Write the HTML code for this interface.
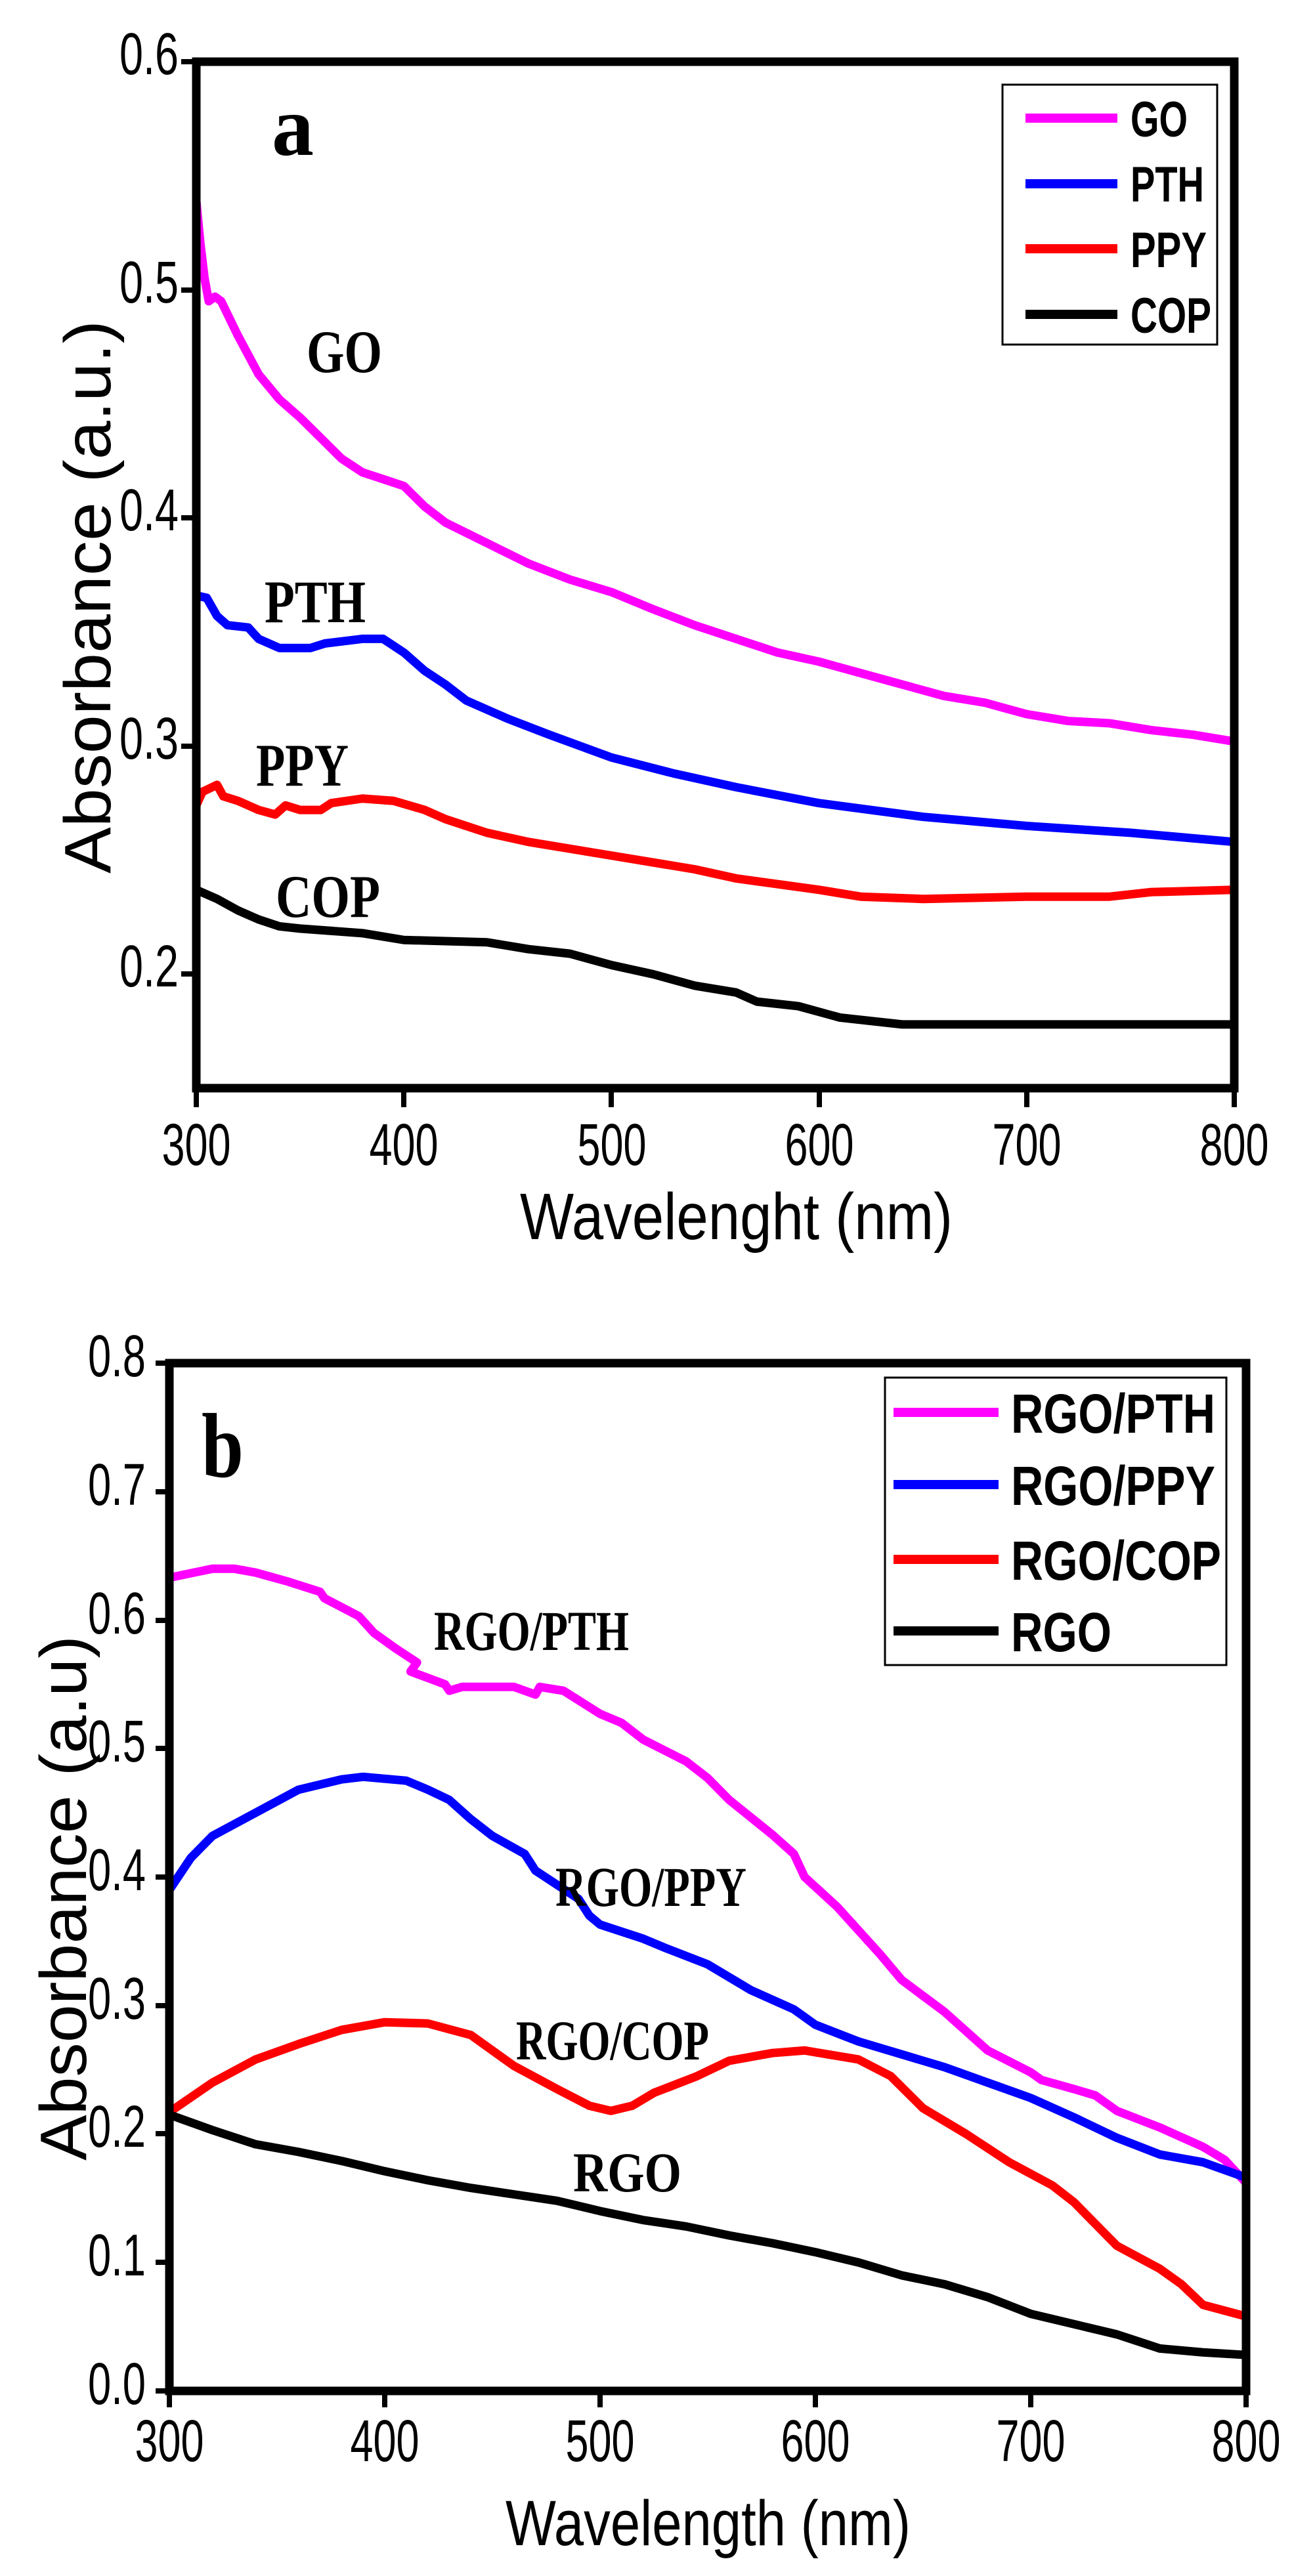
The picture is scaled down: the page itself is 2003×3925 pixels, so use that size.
<!DOCTYPE html>
<html><head><meta charset="utf-8"><style>
html,body{margin:0;padding:0;background:#fff;}
svg{display:block;}
.t{font-family:"Liberation Sans",sans-serif;}
.s{font-family:"Liberation Serif",serif;font-weight:bold;}
</style></head><body>
<svg width="2003" height="3925" viewBox="0 0 2003 3925" xmlns="http://www.w3.org/2000/svg">
<rect width="2003" height="3925" fill="#fff"/>

<!-- ============ PANEL A ============ -->
<g fill="none" stroke-linejoin="round" stroke-linecap="butt">
<g transform="translate(299,94) scale(3.162,-3476) translate(-300,-0.6)">
<polyline vector-effect="non-scaling-stroke" stroke="#ff00ff" stroke-width="13" points="300,0.539 302,0.52 304,0.505 306,0.495 309,0.497 312,0.495 320,0.48 330,0.463 340,0.452 350,0.444 360,0.435 370,0.426 380,0.42 390,0.417 400,0.414 410,0.405 420,0.398 440,0.389 460,0.380 480,0.373 500,0.3675 520,0.360 540,0.353 560,0.347 580,0.341 600,0.337 620,0.332 640,0.327 660,0.322 680,0.319 700,0.314 720,0.311 740,0.310 760,0.307 780,0.305 800,0.302"/>
<polyline vector-effect="non-scaling-stroke" stroke="#0000ff" stroke-width="13" points="300,0.366 305,0.365 310,0.357 315,0.353 325,0.352 330,0.347 340,0.343 355,0.343 362,0.345 380,0.347 390,0.347 400,0.341 410,0.333 420,0.327 430,0.320 450,0.312 470,0.305 500,0.295 530,0.288 560,0.282 600,0.275 650,0.269 700,0.265 750,0.262 800,0.258"/>
<polyline vector-effect="non-scaling-stroke" stroke="#ff0000" stroke-width="13" points="300,0.274 303,0.280 310,0.283 313,0.278 320,0.276 330,0.272 338,0.270 343,0.274 350,0.272 360,0.272 365,0.275 380,0.277 395,0.276 410,0.272 420,0.268 440,0.262 460,0.258 500,0.252 540,0.246 560,0.242 600,0.237 620,0.234 650,0.233 700,0.234 740,0.234 760,0.236 800,0.237"/>
<polyline vector-effect="non-scaling-stroke" stroke="#000" stroke-width="13" points="300,0.237 310,0.233 320,0.228 330,0.224 340,0.221 350,0.220 380,0.218 400,0.215 440,0.214 460,0.211 480,0.209 500,0.204 520,0.200 540,0.195 560,0.192 570,0.188 590,0.186 610,0.181 640,0.178 700,0.178 800,0.178"/>
</g>
</g>
<!-- axes a -->
<rect x="299" y="94" width="1581" height="1564" fill="none" stroke="#000" stroke-width="13"/>
<g stroke="#000" stroke-width="8">
<line x1="276" y1="94" x2="299" y2="94"/><line x1="276" y1="442" x2="299" y2="442"/><line x1="276" y1="789" x2="299" y2="789"/><line x1="276" y1="1137" x2="299" y2="1137"/><line x1="276" y1="1484" x2="299" y2="1484"/>
<line x1="299" y1="1658" x2="299" y2="1687"/><line x1="615" y1="1658" x2="615" y2="1687"/><line x1="931" y1="1658" x2="931" y2="1687"/><line x1="1248" y1="1658" x2="1248" y2="1687"/><line x1="1564" y1="1658" x2="1564" y2="1687"/><line x1="1880" y1="1658" x2="1880" y2="1687"/>
</g>
<g class="t" font-size="90" text-anchor="end">
<text x="272" y="113" textLength="90" lengthAdjust="spacingAndGlyphs">0.6</text>
<text x="272" y="461" textLength="90" lengthAdjust="spacingAndGlyphs">0.5</text>
<text x="272" y="808" textLength="90" lengthAdjust="spacingAndGlyphs">0.4</text>
<text x="272" y="1156" textLength="90" lengthAdjust="spacingAndGlyphs">0.3</text>
<text x="272" y="1503" textLength="90" lengthAdjust="spacingAndGlyphs">0.2</text>
</g>
<g class="t" font-size="90" text-anchor="middle">
<text x="299" y="1775" textLength="105" lengthAdjust="spacingAndGlyphs">300</text>
<text x="615" y="1775" textLength="105" lengthAdjust="spacingAndGlyphs">400</text>
<text x="932" y="1775" textLength="105" lengthAdjust="spacingAndGlyphs">500</text>
<text x="1248" y="1775" textLength="105" lengthAdjust="spacingAndGlyphs">600</text>
<text x="1564" y="1775" textLength="105" lengthAdjust="spacingAndGlyphs">700</text>
<text x="1880" y="1775" textLength="105" lengthAdjust="spacingAndGlyphs">800</text>
</g>
<text class="t" x="792" y="1888" font-size="100" textLength="659" lengthAdjust="spacingAndGlyphs">Wavelenght (nm)</text>
<text class="t" transform="translate(168,1331) rotate(-90)" font-size="100" textLength="843" lengthAdjust="spacingAndGlyphs">Absorbance (a.u.)</text>
<text class="s" x="414" y="236" font-size="130" textLength="64" lengthAdjust="spacingAndGlyphs">a</text>
<g class="s" font-size="92">
<text x="467" y="567" textLength="115" lengthAdjust="spacingAndGlyphs">GO</text>
<text x="403" y="948" textLength="154" lengthAdjust="spacingAndGlyphs">PTH</text>
<text x="390" y="1197" textLength="141" lengthAdjust="spacingAndGlyphs">PPY</text>
<text x="420" y="1397" textLength="159" lengthAdjust="spacingAndGlyphs">COP</text>
</g>
<!-- legend a -->
<rect x="1527" y="129" width="327" height="396" fill="#fff" stroke="#000" stroke-width="3"/>
<g stroke-width="14">
<line x1="1562" y1="180" x2="1702" y2="180" stroke="#ff00ff"/>
<line x1="1562" y1="280" x2="1702" y2="280" stroke="#0000ff"/>
<line x1="1562" y1="379" x2="1702" y2="379" stroke="#ff0000"/>
<line x1="1562" y1="479" x2="1702" y2="479" stroke="#000"/>
</g>
<g class="t" font-size="76" font-weight="bold">
<text x="1722" y="208" textLength="87" lengthAdjust="spacingAndGlyphs">GO</text>
<text x="1722" y="307" textLength="112" lengthAdjust="spacingAndGlyphs">PTH</text>
<text x="1722" y="407" textLength="116" lengthAdjust="spacingAndGlyphs">PPY</text>
<text x="1722" y="507" textLength="123" lengthAdjust="spacingAndGlyphs">COP</text>
</g>

<!-- ============ PANEL B ============ -->
<g fill="none" stroke-linejoin="round">
<g transform="translate(258,3643) scale(3.28,-1957.5) translate(-300,0)">
<polyline vector-effect="non-scaling-stroke" stroke="#ff00ff" stroke-width="13" points="300,0.633 320,0.640 330,0.640 340,0.637 355,0.630 370,0.622 372,0.617 380,0.610 388,0.603 395,0.590 405,0.578 415,0.567 412,0.560 420,0.555 428,0.550 430,0.545 436,0.548 460,0.548 470,0.542 472,0.548 483,0.545 500,0.527 510,0.520 520,0.507 540,0.490 550,0.477 560,0.460 580,0.433 590,0.418 595,0.400 610,0.377 630,0.340 640,0.320 660,0.295 680,0.265 700,0.248 705,0.242 720,0.235 730,0.230 740,0.218 760,0.205 780,0.190 790,0.180 800,0.162"/>
<polyline vector-effect="non-scaling-stroke" stroke="#0000ff" stroke-width="13" points="300,0.39 310,0.415 320,0.432 340,0.450 360,0.468 380,0.476 390,0.478 410,0.475 420,0.468 430,0.460 440,0.445 450,0.432 465,0.418 470,0.405 490,0.383 495,0.370 500,0.363 520,0.352 530,0.345 550,0.332 570,0.312 590,0.297 600,0.285 620,0.272 640,0.262 660,0.252 680,0.240 700,0.228 720,0.213 740,0.197 760,0.184 780,0.178 800,0.166"/>
<polyline vector-effect="non-scaling-stroke" stroke="#ff0000" stroke-width="13" points="300,0.217 320,0.240 340,0.258 360,0.270 380,0.281 400,0.287 420,0.286 440,0.277 460,0.253 480,0.235 495,0.222 505,0.218 515,0.222 525,0.232 545,0.245 560,0.257 580,0.263 595,0.265 620,0.258 635,0.245 650,0.220 670,0.200 690,0.178 710,0.160 720,0.147 740,0.113 760,0.095 770,0.083 780,0.067 800,0.058"/>
<polyline vector-effect="non-scaling-stroke" stroke="#000" stroke-width="13" points="300,0.215 320,0.203 340,0.192 360,0.186 380,0.179 400,0.171 420,0.164 440,0.158 460,0.153 480,0.148 500,0.140 520,0.133 540,0.128 560,0.121 580,0.115 600,0.108 620,0.100 640,0.090 660,0.083 680,0.073 700,0.060 720,0.052 740,0.044 760,0.033 780,0.030 800,0.028"/>
</g>
</g>
<rect x="258" y="2077" width="1640" height="1566" fill="none" stroke="#000" stroke-width="13"/>
<g stroke="#000" stroke-width="8">
<line x1="237" y1="2077" x2="258" y2="2077"/><line x1="237" y1="2273" x2="258" y2="2273"/><line x1="237" y1="2469" x2="258" y2="2469"/><line x1="237" y1="2664" x2="258" y2="2664"/><line x1="237" y1="2860" x2="258" y2="2860"/><line x1="237" y1="3056" x2="258" y2="3056"/><line x1="237" y1="3251" x2="258" y2="3251"/><line x1="237" y1="3447" x2="258" y2="3447"/><line x1="237" y1="3643" x2="258" y2="3643"/>
<line x1="258" y1="3643" x2="258" y2="3668"/><line x1="586" y1="3643" x2="586" y2="3668"/><line x1="914" y1="3643" x2="914" y2="3668"/><line x1="1242" y1="3643" x2="1242" y2="3668"/><line x1="1570" y1="3643" x2="1570" y2="3668"/><line x1="1898" y1="3643" x2="1898" y2="3668"/>
</g>
<g class="t" font-size="90" text-anchor="end">
<text x="222" y="2097" textLength="88" lengthAdjust="spacingAndGlyphs">0.8</text>
<text x="222" y="2293" textLength="88" lengthAdjust="spacingAndGlyphs">0.7</text>
<text x="222" y="2489" textLength="88" lengthAdjust="spacingAndGlyphs">0.6</text>
<text x="222" y="2684" textLength="88" lengthAdjust="spacingAndGlyphs">0.5</text>
<text x="222" y="2880" textLength="88" lengthAdjust="spacingAndGlyphs">0.4</text>
<text x="222" y="3076" textLength="88" lengthAdjust="spacingAndGlyphs">0.3</text>
<text x="222" y="3271" textLength="88" lengthAdjust="spacingAndGlyphs">0.2</text>
<text x="222" y="3467" textLength="88" lengthAdjust="spacingAndGlyphs">0.1</text>
<text x="222" y="3663" textLength="88" lengthAdjust="spacingAndGlyphs">0.0</text>
</g>
<g class="t" font-size="90" text-anchor="middle">
<text x="258" y="3750" textLength="105" lengthAdjust="spacingAndGlyphs">300</text>
<text x="586" y="3750" textLength="105" lengthAdjust="spacingAndGlyphs">400</text>
<text x="914" y="3750" textLength="105" lengthAdjust="spacingAndGlyphs">500</text>
<text x="1242" y="3750" textLength="105" lengthAdjust="spacingAndGlyphs">600</text>
<text x="1570" y="3750" textLength="105" lengthAdjust="spacingAndGlyphs">700</text>
<text x="1898" y="3750" textLength="105" lengthAdjust="spacingAndGlyphs">800</text>
</g>
<text class="t" x="770" y="3878" font-size="97" textLength="617" lengthAdjust="spacingAndGlyphs">Wavelength (nm)</text>
<text class="t" transform="translate(131,3292) rotate(-90)" font-size="100" textLength="800" lengthAdjust="spacingAndGlyphs">Absorbance (a.u)</text>
<text class="s" x="307" y="2250" font-size="140" textLength="64" lengthAdjust="spacingAndGlyphs">b</text>
<g class="s" font-size="86">
<text x="661" y="2514" textLength="297" lengthAdjust="spacingAndGlyphs">RGO/PTH</text>
<text x="846" y="2904" textLength="291" lengthAdjust="spacingAndGlyphs">RGO/PPY</text>
<text x="786" y="3138" textLength="294" lengthAdjust="spacingAndGlyphs">RGO/COP</text>
<text x="873" y="3339" textLength="165" lengthAdjust="spacingAndGlyphs">RGO</text>
</g>
<rect x="1348" y="2099" width="520" height="438" fill="#fff" stroke="#000" stroke-width="3"/>
<g stroke-width="14">
<line x1="1361" y1="2152" x2="1521" y2="2152" stroke="#ff00ff"/>
<line x1="1361" y1="2262" x2="1521" y2="2262" stroke="#0000ff"/>
<line x1="1361" y1="2376" x2="1521" y2="2376" stroke="#ff0000"/>
<line x1="1361" y1="2485" x2="1521" y2="2485" stroke="#000"/>
</g>
<g class="t" font-size="84" font-weight="bold">
<text x="1540" y="2183" textLength="311" lengthAdjust="spacingAndGlyphs">RGO/PTH</text>
<text x="1540" y="2293" textLength="311" lengthAdjust="spacingAndGlyphs">RGO/PPY</text>
<text x="1540" y="2407" textLength="320" lengthAdjust="spacingAndGlyphs">RGO/COP</text>
<text x="1540" y="2516" textLength="153" lengthAdjust="spacingAndGlyphs">RGO</text>
</g>
</svg>
</body></html>
